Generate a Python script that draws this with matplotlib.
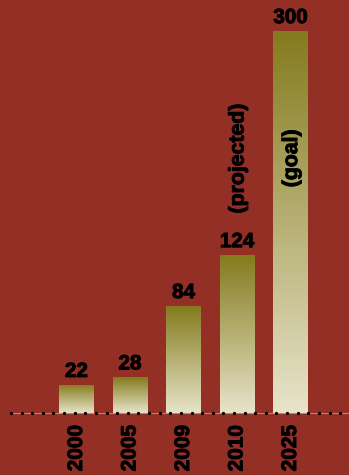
import numpy as np
import matplotlib
matplotlib.use("Agg")
import matplotlib.pyplot as plt
import matplotlib.patheffects as pe
from matplotlib.colors import LinearSegmentedColormap

years = ["2000", "2005", "2009", "2010", "2025"]
values = [22, 28, 84, 124, 300]
notes = ["", "", "", "(projected)", "(goal)"]

BG = "#932F25"
FONT = ["Liberation Sans", "DejaVu Sans"]
cmap = LinearSegmentedColormap.from_list("bar", ["#E8E4CA", "#847B1E"])
heavy = [pe.withStroke(linewidth=0.7, foreground="black")]

W, H = 349, 475
fig = plt.figure(figsize=(W / 100, H / 100), dpi=100, facecolor=BG)
base_px = 62
ax = fig.add_axes([0, base_px / H, 1, 1 - base_px / H])
ax.set_facecolor(BG)

x = np.arange(len(years))
bw = 0.654
grad = np.linspace(0, 1, 256).reshape(-1, 1)
bars = ax.bar(x, values, width=bw, color="none", edgecolor="none")
for rect, v in zip(bars, values):
    x0 = rect.get_x()
    im = ax.imshow(grad, extent=[x0, x0 + bw, 0, v], origin="lower",
                   aspect="auto", cmap=cmap, zorder=2)
    im.set_clip_path(rect)
    ax.text(rect.get_x() + bw / 2, v + 6.3, str(v), ha="center", va="baseline",
            fontsize=14.8, fontweight="bold", family=FONT, color="black",
            zorder=4, path_effects=heavy)

for xi, note in zip(x, notes):
    if note:
        ax.text(xi + 0.02, 200, note, rotation=90, ha="center", va="center",
                fontsize=15.3, fontweight="bold", family=FONT, color="black",
                zorder=4, path_effects=heavy)

sp = 53.5
ax.set_xlim((0 - 76.5) / sp, (W - 76.5) / sp)
ax.set_ylim(0, (H - base_px) / 1.273)

ax.set_xticks(x)
ax.set_xticklabels(years, rotation=90, fontsize=15, fontweight="bold",
                   family=FONT, color="black", va="top")
for t in ax.get_xticklabels():
    t.set_path_effects(heavy)
ax.tick_params(axis="x", length=0, pad=8.5)
ax.set_yticks([])
for s in ax.spines.values():
    s.set_visible(False)

# dotted baseline
xl0 = (11 - 76.5) / sp
xl1 = (W - 76.5) / sp
ax.plot([xl0, xl1], [0, 0], color="#C97F76", lw=0.8, zorder=5, clip_on=False)
dots = np.arange(11, 342, 10.62)
ax.scatter((dots - 76.5) / sp, np.zeros_like(dots), s=5.5, color="black",
           linewidths=0, zorder=6, clip_on=False)

fig.savefig("out.png", dpi=100, facecolor=BG)
